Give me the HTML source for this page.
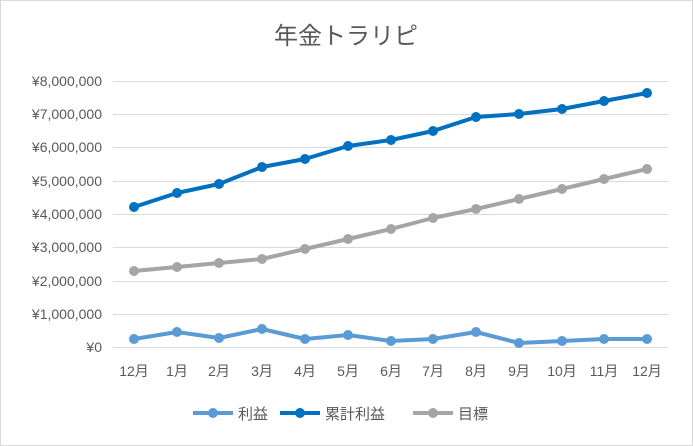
<!DOCTYPE html>
<html><head><meta charset="utf-8"><style>
html,body{margin:0;padding:0;background:#fff;}
svg{display:block;font-family:"Liberation Sans","Noto Sans CJK JP",sans-serif;}
</style></head><body>
<svg width="693" height="446" viewBox="0 0 693 446">
<rect x="0.5" y="0.5" width="692" height="445" fill="#fff" stroke="#d9d9d9"/>
<text x="346" y="44" text-anchor="middle" font-size="24" fill="#595959">年金トラリピ</text>
<g stroke="#d9d9d9" stroke-width="1">
<line x1="113" y1="81.5" x2="668" y2="81.5"/>
<line x1="113" y1="114.5" x2="668" y2="114.5"/>
<line x1="113" y1="147.5" x2="668" y2="147.5"/>
<line x1="113" y1="181.5" x2="668" y2="181.5"/>
<line x1="113" y1="214.5" x2="668" y2="214.5"/>
<line x1="113" y1="247.5" x2="668" y2="247.5"/>
<line x1="113" y1="281.5" x2="668" y2="281.5"/>
<line x1="113" y1="314.5" x2="668" y2="314.5"/>
<line x1="113" y1="347.5" x2="668" y2="347.5"/>
</g>
<g font-size="14" fill="#595959" text-anchor="end">
<text x="102" y="86">¥8,000,000</text>
<text x="102" y="119">¥7,000,000</text>
<text x="102" y="152">¥6,000,000</text>
<text x="102" y="186">¥5,000,000</text>
<text x="102" y="219">¥4,000,000</text>
<text x="102" y="252">¥3,000,000</text>
<text x="102" y="286">¥2,000,000</text>
<text x="102" y="319">¥1,000,000</text>
<text x="102" y="352">¥0</text>
</g>
<g font-size="14" fill="#595959" text-anchor="middle">
<text x="134" y="376">12月</text><text x="177" y="376">1月</text><text x="219" y="376">2月</text><text x="262" y="376">3月</text><text x="305" y="376">4月</text><text x="348" y="376">5月</text><text x="391" y="376">6月</text><text x="433" y="376">7月</text><text x="476" y="376">8月</text><text x="519" y="376">9月</text><text x="562" y="376">10月</text><text x="604" y="376">11月</text><text x="647" y="376">12月</text>
</g>
<g fill="none" stroke-width="4" stroke-linejoin="round">
<polyline stroke="#a5a5a5" points="134,271 177,267 219,263 262,259 305,249 348,239 391,229 433,218 476,209 519,199 562,189 604,179 647,169"/>
<polyline stroke="#0070c0" points="134,207 177,193 219,184 262,167 305,159 348,146 391,140 433,131 476,117 519,114 562,109 604,101 647,93"/>
<polyline stroke="#5b9bd5" points="134,339 177,332 219,338 262,329 305,339 348,335 391,341 433,339 476,332 519,343 562,341 604,339 647,339"/>
</g>
<g fill="#a5a5a5"><circle cx="134" cy="271" r="5"/><circle cx="177" cy="267" r="5"/><circle cx="219" cy="263" r="5"/><circle cx="262" cy="259" r="5"/><circle cx="305" cy="249" r="5"/><circle cx="348" cy="239" r="5"/><circle cx="391" cy="229" r="5"/><circle cx="433" cy="218" r="5"/><circle cx="476" cy="209" r="5"/><circle cx="519" cy="199" r="5"/><circle cx="562" cy="189" r="5"/><circle cx="604" cy="179" r="5"/><circle cx="647" cy="169" r="5"/></g>
<g fill="#0070c0"><circle cx="134" cy="207" r="5"/><circle cx="177" cy="193" r="5"/><circle cx="219" cy="184" r="5"/><circle cx="262" cy="167" r="5"/><circle cx="305" cy="159" r="5"/><circle cx="348" cy="146" r="5"/><circle cx="391" cy="140" r="5"/><circle cx="433" cy="131" r="5"/><circle cx="476" cy="117" r="5"/><circle cx="519" cy="114" r="5"/><circle cx="562" cy="109" r="5"/><circle cx="604" cy="101" r="5"/><circle cx="647" cy="93" r="5"/></g>
<g fill="#5b9bd5"><circle cx="134" cy="339" r="5"/><circle cx="177" cy="332" r="5"/><circle cx="219" cy="338" r="5"/><circle cx="262" cy="329" r="5"/><circle cx="305" cy="339" r="5"/><circle cx="348" cy="335" r="5"/><circle cx="391" cy="341" r="5"/><circle cx="433" cy="339" r="5"/><circle cx="476" cy="332" r="5"/><circle cx="519" cy="343" r="5"/><circle cx="562" cy="341" r="5"/><circle cx="604" cy="339" r="5"/><circle cx="647" cy="339" r="5"/></g>
<g stroke-width="4">
<line x1="193" y1="413" x2="233" y2="413" stroke="#5b9bd5"/><circle cx="213" cy="413" r="5" fill="#5b9bd5"/>
<line x1="280" y1="413" x2="320" y2="413" stroke="#0070c0"/><circle cx="300" cy="413" r="5" fill="#0070c0"/>
<line x1="413" y1="413" x2="453" y2="413" stroke="#a5a5a5"/><circle cx="433" cy="413" r="5" fill="#a5a5a5"/>
</g>
<g font-size="15" fill="#595959">
<text x="238" y="419">利益</text><text x="325" y="419">累計利益</text><text x="458" y="419">目標</text>
</g>
</svg>
</body></html>
